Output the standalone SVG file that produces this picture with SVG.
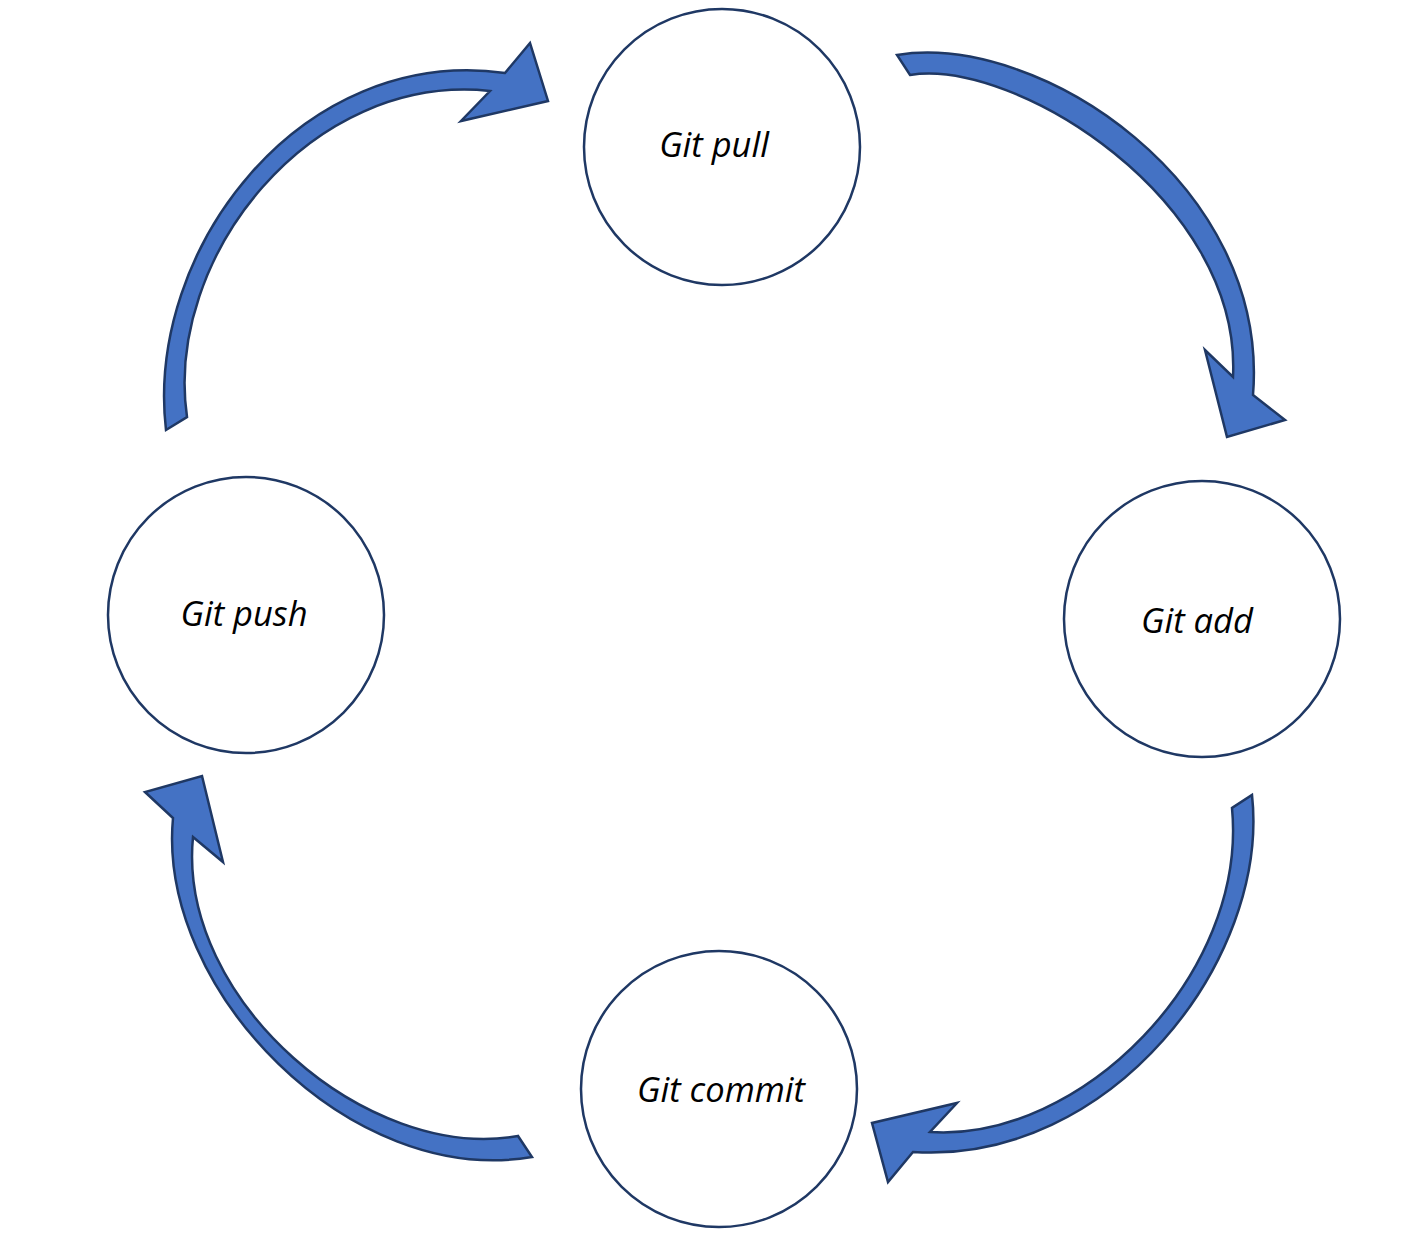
<svg xmlns="http://www.w3.org/2000/svg" width="1407" height="1255" viewBox="0 0 1407 1255">
<style>
.node{fill:#ffffff;stroke:#1F3864;stroke-width:2.5}
.lbl{font-family:"Open Sans","Noto Sans",sans-serif;font-style:italic;font-size:34.5px;fill:#000;text-anchor:middle}
.arr{fill:#4472C4;stroke:#1F3864;stroke-width:2.5;stroke-linejoin:miter}
</style>
<rect width="1407" height="1255" fill="#ffffff"/>
<g id="connectors">
<path id="arrow-push-pull" class="arr" d="M166,430 C145,250 300,45 505,73 L530,43 L548,101 L461,121 L490,91 C310,72 164,258 187,417 Z"/>
<path id="arrow-pull-add" class="arr" d="M897,55 C1040,32 1270,185 1253,395 L1285,420 L1227,437 L1205,350 L1233,377 C1242,200 1015,58 910,75 Z"/>
<path id="arrow-add-commit" class="arr" d="M1252,795 C1270,960 1110,1165 913,1152 L888,1182 L872,1123 L957,1103 L930,1132 C1080,1142 1248,975 1232,808 Z"/>
<path id="arrow-commit-push" class="arr" d="M532,1157 C350,1188 157,990 173,818 L145,792 L202,776 L223,862 L193,837 C177,1000 368,1163 518,1136 Z"/>
</g>
<g id="node-pull"><circle class="node" cx="722" cy="147" r="138"/><text class="lbl" x="714" y="157">Git pull</text></g>
<g id="node-add"><circle class="node" cx="1202" cy="619" r="138"/><text class="lbl" x="1197" y="633">Git add</text></g>
<g id="node-commit"><circle class="node" cx="719" cy="1089" r="138"/><text class="lbl" x="721" y="1102">Git commit</text></g>
<g id="node-push"><circle class="node" cx="246" cy="615" r="138"/><text class="lbl" x="244" y="626">Git push</text></g>
</svg>
